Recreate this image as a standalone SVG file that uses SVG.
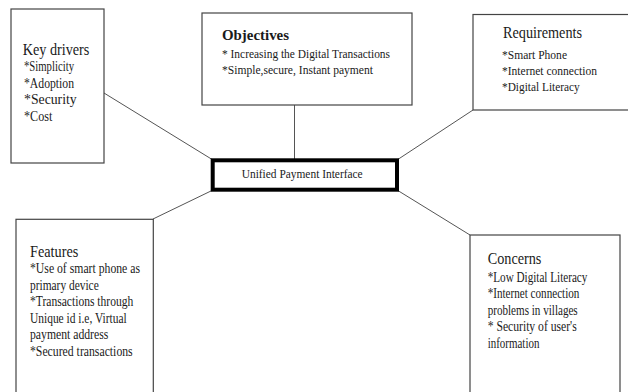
<svg xmlns="http://www.w3.org/2000/svg" width="628" height="392" viewBox="0 0 628 392">
<style>
.box{fill:#fff;stroke:#444;stroke-width:1.2}
.t{font-family:"Liberation Serif","Times New Roman",serif;fill:#1a1a1a}
.h{font-size:16px}
.i{font-size:14px}
.s{font-size:12.5px}
.b{font-size:15px;font-weight:bold}
.conn line{stroke:#555;stroke-width:1}
</style>
<rect width="628" height="392" fill="#fff"/>
<g class="conn">
<line x1="104" y1="93" x2="213" y2="160"/>
<line x1="294.5" y1="105" x2="294.5" y2="160"/>
<line x1="473" y1="110" x2="397" y2="160"/>
<line x1="153" y1="219" x2="213" y2="190"/>
<line x1="470" y1="235" x2="397" y2="190"/>
</g>
<g id="key-drivers">
<rect class="box" x="11" y="9" width="93" height="154"/>
<text class="t h" x="22.7" y="55" textLength="66.7" lengthAdjust="spacingAndGlyphs">Key drivers</text>
<text class="t i" x="24" y="71" textLength="50" lengthAdjust="spacingAndGlyphs">*Simplicity</text>
<text class="t i" x="24" y="87.5" textLength="50" lengthAdjust="spacingAndGlyphs">*Adoption</text>
<text class="t i" x="24" y="104" textLength="52.7" lengthAdjust="spacingAndGlyphs">*Security</text>
<text class="t i" x="24" y="120.5" textLength="28.3" lengthAdjust="spacingAndGlyphs">*Cost</text>
</g>
<g id="objectives">
<rect class="box" x="202" y="13" width="210" height="92"/>
<text class="t b" x="222" y="40" textLength="67" lengthAdjust="spacingAndGlyphs">Objectives</text>
<text class="t s" x="222" y="57.5" textLength="168" lengthAdjust="spacingAndGlyphs">* Increasing the Digital Transactions</text>
<text class="t s" x="222" y="74" textLength="151" lengthAdjust="spacingAndGlyphs">*Simple,secure, Instant payment</text>
</g>
<g id="requirements">
<rect class="box" x="473" y="14.5" width="165" height="95.5"/>
<text class="t h" x="503" y="38" textLength="79" lengthAdjust="spacingAndGlyphs">Requirements</text>
<text class="t s" x="502" y="59" textLength="65" lengthAdjust="spacingAndGlyphs">*Smart Phone</text>
<text class="t s" x="502" y="74.5" textLength="95" lengthAdjust="spacingAndGlyphs">*Internet connection</text>
<text class="t s" x="502" y="90.5" textLength="77.7" lengthAdjust="spacingAndGlyphs">*Digital  Literacy</text>
</g>
<g id="upi">
<rect x="212.7" y="160.3" width="184.3" height="29.4" fill="#fff" stroke="#000" stroke-width="4"/>
<text class="t" font-size="13" x="241.7" y="178" textLength="121" lengthAdjust="spacingAndGlyphs">Unified Payment Interface</text>
</g>
<g id="features">
<rect class="box" x="16" y="219.3" width="137.3" height="190"/>
<text class="t h" x="30" y="256.7" textLength="48.3" lengthAdjust="spacingAndGlyphs">Features</text>
<text class="t i" x="30" y="273" textLength="110" lengthAdjust="spacingAndGlyphs">*Use of smart phone as</text>
<text class="t i" x="30" y="289.5" textLength="68.7" lengthAdjust="spacingAndGlyphs">primary device</text>
<text class="t i" x="30" y="306" textLength="103.3" lengthAdjust="spacingAndGlyphs">*Transactions through</text>
<text class="t i" x="30" y="322.5" textLength="96.7" lengthAdjust="spacingAndGlyphs">Unique id i.e, Virtual</text>
<text class="t i" x="30" y="339" textLength="78.3" lengthAdjust="spacingAndGlyphs">payment address</text>
<text class="t i" x="30" y="355.5" textLength="102.7" lengthAdjust="spacingAndGlyphs">*Secured transactions</text>
</g>
<g id="concerns">
<rect class="box" x="470" y="235" width="150" height="175"/>
<text class="t h" x="487.7" y="264" textLength="53.7" lengthAdjust="spacingAndGlyphs">Concerns</text>
<text class="t i" x="487.7" y="281.5" textLength="99.7" lengthAdjust="spacingAndGlyphs">*Low Digital Literacy</text>
<text class="t i" x="487.7" y="298" textLength="91.7" lengthAdjust="spacingAndGlyphs">*Internet connection</text>
<text class="t i" x="487.7" y="314.5" textLength="90" lengthAdjust="spacingAndGlyphs">problems in villages</text>
<text class="t i" x="487.7" y="331" textLength="89" lengthAdjust="spacingAndGlyphs">* Security of user's</text>
<text class="t i" x="487.7" y="347.5" textLength="51.7" lengthAdjust="spacingAndGlyphs">information</text>
</g>
</svg>
